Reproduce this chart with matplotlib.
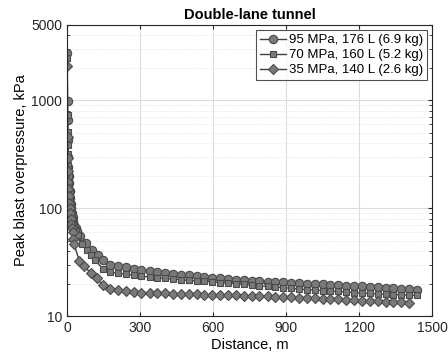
import numpy as np
import matplotlib
matplotlib.use("Agg")
import matplotlib.pyplot as plt
from matplotlib.ticker import FixedLocator, NullFormatter, LogLocator

plt.rcParams['font.family'] = ['Liberation Sans', 'DejaVu Sans']

# near field + mid range + tail
dist_95 = [1, 2, 3, 4, 5, 6, 8, 10, 12, 14, 16, 18, 20, 23, 26, 30, 35, 40, 53, 78, 101, 129, 149,
           177, 209, 242, 274, 306, 339, 371, 403, 436, 468, 500, 533, 565, 597, 630, 662, 694, 727,
           759, 791, 824, 856, 888, 921, 953, 985, 1018, 1050, 1082, 1115, 1147, 1179, 1212, 1244,
           1276, 1309, 1341, 1373, 1406, 1438]
p_95 = [2750, 980, 664, 430, 300, 242, 200, 170, 145, 125, 110, 100, 90, 82, 76, 70, 65, 61, 55, 48, 41, 37, 33,
        30.0, 29.2, 28.5, 27.5, 26.8, 26.2, 25.6, 25.1, 24.6, 24.2, 23.8, 23.4, 23.0, 22.7, 22.3, 22.0,
        21.7, 21.4, 21.2, 21.0, 20.8, 20.6, 20.5, 20.3, 20.1, 19.9, 19.7, 19.6, 19.4, 19.3, 19.1, 18.9,
        18.8, 18.6, 18.4, 18.2, 18.1, 17.9, 17.7, 17.6]

dist_70 = [1, 2, 3, 4, 5, 6, 8, 10, 12, 14, 16, 18, 20, 23, 26, 30, 35, 45, 62, 81, 98, 115, 147,
           177, 209, 242, 274, 306, 339, 371, 403, 436, 468, 500, 533, 565, 597, 630, 662, 694, 727,
           759, 791, 824, 856, 888, 921, 953, 985, 1018, 1050, 1082, 1115, 1147, 1179, 1212, 1244,
           1276, 1309, 1341, 1373, 1406, 1438]
p_70 = [2470, 725, 512, 388, 320, 250, 200, 165, 140, 120, 105, 95, 86, 78, 72, 67, 62, 56, 47, 41, 37, 33, 27.5,
        25.4, 24.9, 24.4, 23.9, 23.4, 23.0, 22.6, 22.3, 22.0, 21.7, 21.4, 21.1, 20.9, 20.7, 20.4, 20.2,
        19.9, 19.6, 19.3, 19.0, 18.8, 18.6, 18.3, 18.1, 17.8, 17.6, 17.4, 17.2, 17.0, 16.9, 16.7, 16.5,
        16.3, 16.2, 16.0, 15.9, 15.8, 15.7, 15.6, 15.5]

dist_35 = [1, 2, 3, 4, 5, 6, 8, 10, 12, 14, 16, 18, 20, 23, 26, 29, 50, 71, 99, 122, 147,
           177, 209, 242, 274, 306, 339, 371, 403, 436, 468, 500, 533, 565, 597, 630, 662, 694, 727,
           759, 791, 824, 856, 888, 921, 953, 985, 1018, 1050, 1082, 1115, 1147, 1179, 1212, 1244,
           1276, 1309, 1341, 1373, 1406]
p_35 = [2080, 461, 293, 220, 175, 150, 130, 112, 100, 90, 80, 72, 66, 60, 52, 46.5, 32.7, 28.8, 25, 22.5, 19.2,
        17.8, 17.4, 17.1, 16.8, 16.5, 16.4, 16.3, 16.2, 16.1, 16.0, 15.9, 15.9, 15.8, 15.7, 15.7, 15.6,
        15.5, 15.4, 15.3, 15.3, 15.2, 15.1, 15.0, 14.9, 14.8, 14.7, 14.6, 14.5, 14.4, 14.3, 14.2, 14.0,
        13.9, 13.8, 13.7, 13.6, 13.5, 13.4, 13.3]

labels = ['95 MPa, 176 L (6.9 kg)', '70 MPa, 160 L (5.2 kg)', '35 MPa, 140 L (2.6 kg)']
x_ticks = [0, 300, 600, 900, 1200, 1500]
y_ticks = [10, 100, 1000, 5000]

fig = plt.figure(figsize=(4.48, 3.6), dpi=100)
ax = fig.add_axes([0.1496, 0.1222, 0.8147, 0.8084])

style = dict(color='#404040', lw=1.0, markerfacecolor='#7a7a7a', markeredgecolor='#4a4a4a',
             markeredgewidth=0.8)
ax.plot(dist_95, p_95, marker='o', ms=6.0, label=labels[0], **style)
ax.plot(dist_70, p_70, marker='s', ms=5.0, label=labels[1], **style)
ax.plot(dist_35, p_35, marker='D', ms=5.0, label=labels[2], **style)

ax.set_yscale('log')
ax.set_xlim(0, 1500)
ax.set_ylim(10, 5000)
ax.set_xticks(x_ticks)
ax.yaxis.set_major_locator(FixedLocator(y_ticks))
ax.set_yticklabels([str(v) for v in y_ticks])
ax.yaxis.set_minor_locator(LogLocator(base=10, subs=np.arange(2, 10)))
ax.yaxis.set_minor_formatter(NullFormatter())

ax.grid(True, which='major', color='#dcdcdc', lw=0.8)
ax.grid(True, which='minor', axis='y', color='#dedede', lw=0.6, ls=':')
ax.set_axisbelow(True)
ax.tick_params(which='both', direction='in', top=True, right=True, labelsize=10, colors='#262626')
ax.tick_params(which='major', length=3)
ax.tick_params(which='minor', length=2)
for s in ax.spines.values():
    s.set_color('#262626')

ax.set_title('Double-lane tunnel', fontsize=10.5, fontweight='bold', pad=4)
ax.set_xlabel('Distance, m', fontsize=10.5, labelpad=2)
ax.set_ylabel('Peak blast overpressure, kPa', fontsize=10.5, labelpad=2)

leg = ax.legend(loc='upper right', fontsize=9.5, frameon=True, fancybox=False, borderpad=0.3,
                handlelength=2.0, handletextpad=0.2, labelspacing=0.2, borderaxespad=0.4)
leg.get_frame().set_edgecolor('#262626')
leg.get_frame().set_linewidth(0.8)

fig.savefig('out.png', dpi=100)
